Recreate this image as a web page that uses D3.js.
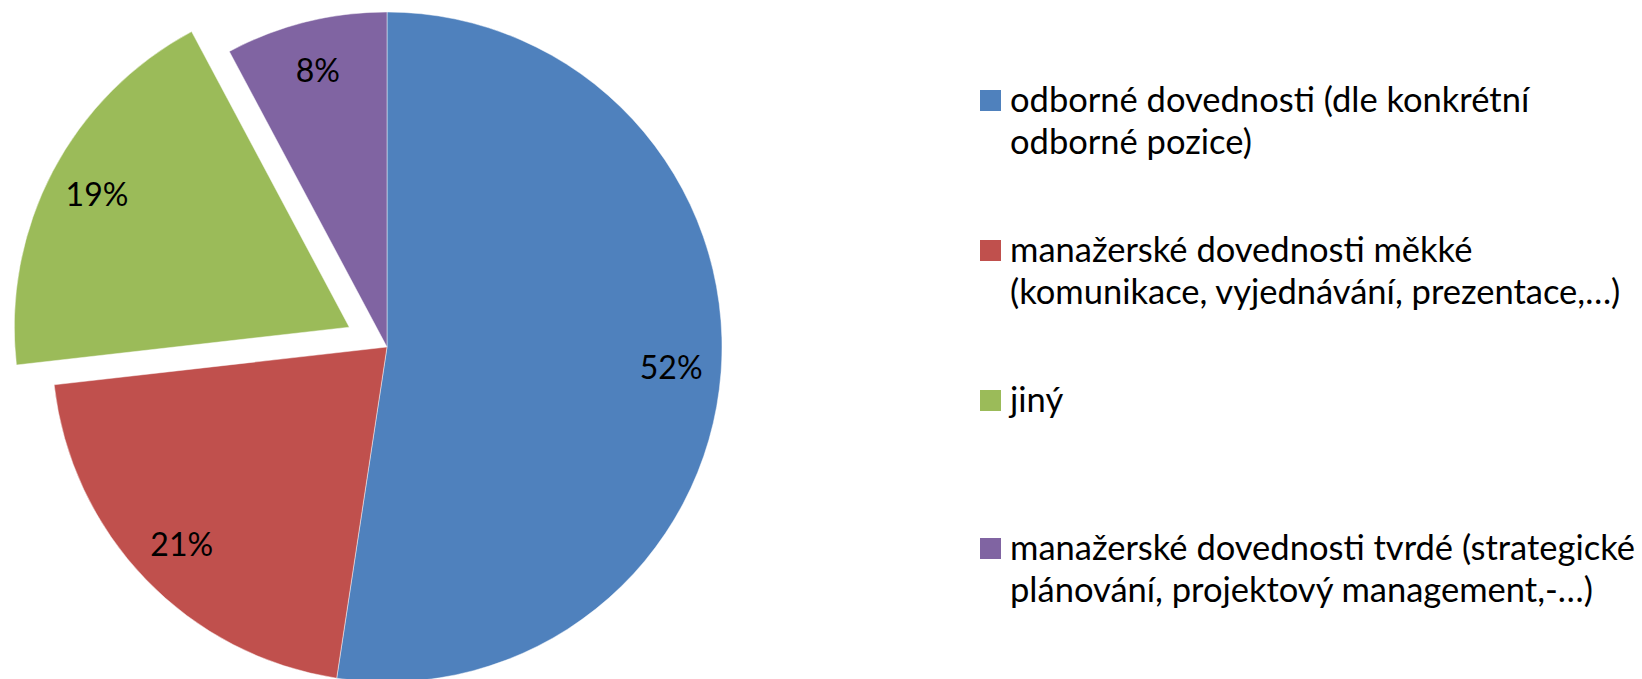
<!DOCTYPE html>
<html>
<head>
<meta charset="utf-8">
<script src="https://cdn.jsdelivr.net/npm/d3@7"></script>
<style>
  html, body { margin: 0; padding: 0; background: #fff; }
  svg { display: block; }
</style>
</head>
<body>
<svg id="chart" width="1642" height="679"></svg>
<script>
const categories = [
  "odborné dovednosti (dle konkrétní\nodborné pozice)",
  "manažerské dovednosti měkké\n(komunikace, vyjednávání, prezentace,…)",
  "jiný",
  "manažerské dovednosti tvrdé (strategické\nplánování, projektový management,-…)"
];
const values = [52.4, 20.8, 19.0, 7.8];
const colors = ["#4F81BD", "#C0504D", "#9BBB59", "#8064A2"];
const explodedIndex = 2;

const svg = d3.select("#chart");
const cx = 387, cy = 347, R = 335, explodeDist = 42.6, labelR = 285;
const font = "Lato, 'Open Sans', sans-serif";
const total = d3.sum(values);
const pct = d3.format(".0%");

const pie = d3.pie().sort(null).value(d => d)(values);
const arc = d3.arc().innerRadius(0).outerRadius(R);
const labelArc = d3.arc().innerRadius(labelR).outerRadius(labelR);

const g = svg.append("g").attr("transform", `translate(${cx},${cy})`);

const slices = g.selectAll("g.slice").data(pie).join("g")
  .attr("class", "slice")
  .attr("transform", (d, i) => {
    if (i !== explodedIndex) return null;
    const a = (d.startAngle + d.endAngle) / 2;
    return `translate(${Math.sin(a) * explodeDist},${-Math.cos(a) * explodeDist})`;
  });

slices.append("path")
  .attr("d", arc)
  .attr("fill", (d, i) => colors[i])
  .attr("stroke", "#ffffff")
  .attr("stroke-opacity", 0.45)
  .attr("stroke-width", 1);

slices.append("text")
  .attr("transform", d => { const c = labelArc.centroid(d); return `translate(${c[0]},${c[1] + 11})`; })
  .attr("text-anchor", "middle")
  .attr("font-family", font)
  .attr("font-size", 32)
  .attr("fill", "#000")
  .text(d => pct(d.data / total));

// Legend
const legendTops = [90, 240, 390, 538];
const legend = svg.append("g");
const items = legend.selectAll("g.item").data(categories).join("g")
  .attr("class", "item")
  .attr("transform", (d, i) => `translate(980,${legendTops[i]})`);

items.append("rect")
  .attr("width", 21).attr("height", 21)
  .attr("fill", (d, i) => colors[i]);

const txt = items.append("text")
  .attr("font-family", font)
  .attr("font-size", 34.5)
  .attr("fill", "#000");

txt.selectAll("tspan").data(d => d.split("\n")).join("tspan")
  .attr("x", 30)
  .attr("y", (d, j) => 22 + j * 42)
  .text(d => d);
</script>
</body>
</html>
